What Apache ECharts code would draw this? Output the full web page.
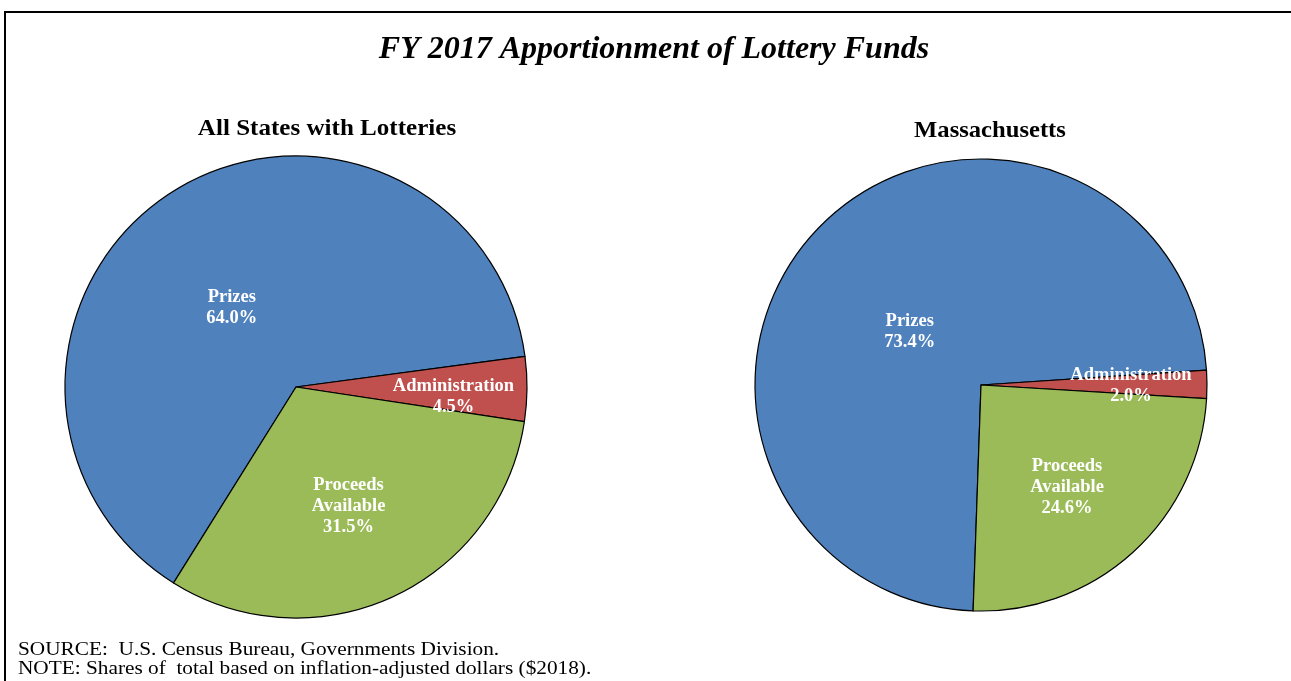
<!DOCTYPE html>
<html>
<head>
<meta charset="utf-8">
<title>FY 2017 Apportionment of Lottery Funds</title>
<script src="https://cdn.jsdelivr.net/npm/echarts@6/dist/echarts.min.js"></script>
<style>
  html, body { margin: 0; padding: 0; background: #ffffff; }
  #chart { width: 1291px; height: 681px; }
</style>
</head>
<body>
<div id="chart"></div>
<script>
// Lottery fund shares, percent of total
const categories = ['Prizes', 'Administration', 'Proceeds\nAvailable'];
const allStatesShares = [64.0, 4.5, 31.5];
const massachusettsShares = [73.4, 2.0, 24.6];
const pieTitles = ['All States with Lotteries', 'Massachusetts'];
const chartTitle = 'FY 2017 Apportionment of Lottery Funds';
const footnotes = [
  'SOURCE:  U.S. Census Bureau, Governments Division.',
  'NOTE: Shares of  total based on inflation-adjusted dollars ($2018).'
];

const SERIF = '"Liberation Serif", "Times New Roman", Times, serif';
const sliceColors = ['#4F81BD', '#C0504D', '#9BBB59'];

// Nudges that move each slice label from the default inside spot
const leftLabelNudge = [[0, 20], [39, 9], [3, 12]];
const rightLabelNudge = [[12, 27], [34, 1], [8, 16]];

function buildSlices(values, nudges) {
  return categories.map((name, i) => ({
    name: name,
    value: values[i],
    itemStyle: { color: sliceColors[i] },
    label: { offset: nudges[i] }
  }));
}

function pieSeries(values, center, radius, startAngle, nudges) {
  return {
    type: 'pie',
    center: center,
    radius: radius,
    startAngle: startAngle,
    clockwise: true,
    avoidLabelOverlap: false,
    animation: false,
    silent: true,
    itemStyle: { borderColor: '#000000', borderWidth: 1.2 },
    label: {
      show: true,
      position: 'inside',
      color: '#ffffff',
      fontFamily: SERIF,
      fontWeight: 'bold',
      fontSize: 18.5,
      lineHeight: 21,
      align: 'center',
      formatter: p => p.name + '\n' + p.value.toFixed(1) + '%'
    },
    labelLine: { show: false },
    emphasis: { disabled: true },
    data: buildSlices(values, nudges)
  };
}

// Text element with a slight horizontal stretch
function stretchedText(text, x, y, font, align, stretch) {
  return {
    type: 'text',
    x: x, y: y,
    scaleX: stretch,
    silent: true,
    style: { x: 0, y: 0, text: text, font: font, fill: '#000', textAlign: align, textVerticalAlign: 'middle' }
  };
}

const chart = echarts.init(document.getElementById('chart'), null, { renderer: 'canvas' });

chart.setOption({
  backgroundColor: '#ffffff',
  animation: false,
  graphic: [
    {
      type: 'rect',
      shape: { x: 5, y: 12, width: 1300, height: 700 },
      style: { fill: 'none', stroke: '#000', lineWidth: 2 },
      silent: true
    },
    stretchedText(chartTitle, 654, 50, 'italic bold 32px ' + SERIF, 'center', 1.0),
    stretchedText(pieTitles[0], 327, 129, 'bold 23px ' + SERIF, 'center', 1.09),
    stretchedText(pieTitles[1], 990, 131, 'bold 23px ' + SERIF, 'center', 1.07),
    stretchedText(footnotes[0], 18, 650, '19px ' + SERIF, 'left', 1.12),
    stretchedText(footnotes[1], 18, 669, '19px ' + SERIF, 'left', 1.12)
  ],
  series: [
    pieSeries(allStatesShares, [296, 387], 231, 238, leftLabelNudge),
    pieSeries(massachusettsShares, [981, 385], 226, 268, rightLabelNudge)
  ]
});
</script>
</body>
</html>
